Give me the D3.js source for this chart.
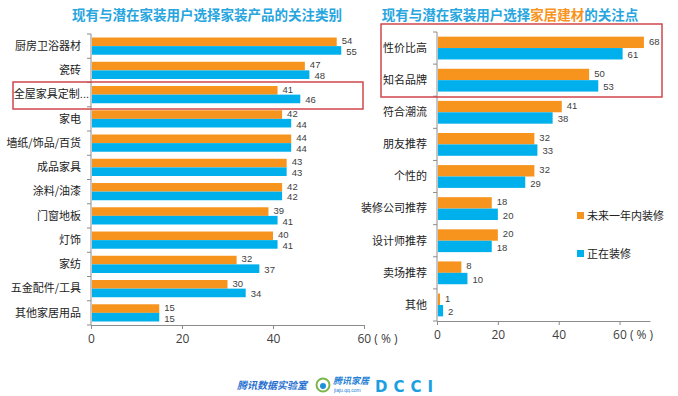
<!DOCTYPE html>
<html>
<head>
<meta charset="utf-8">
<script src="https://cdn.jsdelivr.net/npm/d3@7"></script>
<style>
  body { margin: 0; background: #fff; }
  text { font-family: "Noto Sans CJK SC", "Noto Sans", sans-serif; }
  .axis path, .axis line { stroke: #8c8c8c; }
  .axis text { fill: #404040; font-size: 12px; font-family: "Open Sans", sans-serif; }
  .valueLabel { fill: #404040; font-size: 9.5px; font-family: "Liberation Sans", sans-serif; }
  .catLabel { fill: #222; font-size: 11px; }
</style>
</head>
<body>
<div id="chart"></div>
<script>
var width = 678, height = 396;

// left chart: product categories
var leftCats = ["厨房卫浴器材", "瓷砖", "全屋家具定制…", "家电", "墙纸/饰品/百货", "成品家具", "涂料/油漆", "门窗地板", "灯饰", "家纺", "五金配件/工具", "其他家居用品"];
var leftFuture = [54, 47, 41, 42, 44, 43, 42, 39, 40, 32, 30, 15];
var leftNow = [55, 48, 46, 44, 44, 43, 42, 41, 41, 37, 34, 15];

// right chart: building material concerns
var rightCats = ["性价比高", "知名品牌", "符合潮流", "朋友推荐", "个性的", "装修公司推荐", "设计师推荐", "卖场推荐", "其他"];
var rightFuture = [68, 50, 41, 32, 32, 18, 20, 8, 1];
var rightNow = [61, 53, 38, 33, 29, 20, 18, 10, 2];

var ticks = [0, 20, 40, 60];
var seriesNames = ["未来一年内装修", "正在装修"];
var colors = ["#f7941d", "#00b0ec"];
var titleBlue = "#26a5de";

var svg = d3.select("#chart").append("svg")
    .attr("width", width)
    .attr("height", height);

function drawChart(cfg) {
    var x = d3.scaleLinear().domain([0, cfg.xMax]).range([cfg.x0, cfg.x1]);
    var y = d3.scaleBand().domain(cfg.cats).range([cfg.y0, cfg.y1]);
    var bh = y.bandwidth() * 0.355;
    var off = (y.bandwidth() - 2 * bh) / 2;

    var g = svg.append("g");

    // x axis
    var xAxis = d3.axisBottom(x)
        .tickValues(ticks)
        .tickSize(4)
        .tickSizeOuter(0)
        .tickFormat(d => d);
    var ax = g.append("g")
        .attr("class", "axis")
        .attr("transform", `translate(0, ${cfg.y1})`)
        .call(xAxis);
    ax.selectAll(".tick text").attr("dy", "0.9em");
    ax.selectAll(".tick").filter(d => d == 60).select("text")
        .attr("text-anchor", "start")
        .attr("x", -7)
        .text("60 ( % )");

    // y axis with ticks at category boundaries
    g.append("line")
        .attr("x1", cfg.x0).attr("x2", cfg.x0)
        .attr("y1", cfg.y0).attr("y2", cfg.y1)
        .attr("stroke", "#8c8c8c");
    g.selectAll("line.ytick")
        .data(d3.range(cfg.cats.length + 1))
        .enter()
        .append("line")
        .attr("class", "ytick")
        .attr("x1", cfg.x0 - 4).attr("x2", cfg.x0)
        .attr("y1", i => cfg.y0 + i * y.step())
        .attr("y2", i => cfg.y0 + i * y.step())
        .attr("stroke", "#8c8c8c");

    var labels = g.selectAll("text.catLabel")
        .data(cfg.cats)
        .enter()
        .append("text")
        .attr("class", "catLabel")
        .attr("x", d => d.endsWith("…") ? cfg.x0 - 2 : cfg.x0 - 10)
        .attr("y", d => y(d) + y.bandwidth() / 2)
        .attr("dy", "0.35em")
        .style("text-anchor", "end");
    labels.append("tspan").text(d => d.replace("…", ""));
    // truncated label: narrow dots like the original
    labels.filter(d => d.endsWith("…"))
        .append("tspan")
        .style("font-family", "Liberation Sans, sans-serif")
        .text("...");

    [cfg.future, cfg.now].forEach(function(vals, s) {
        var rows = cfg.cats.map((c, i) => ({ key: c, value: vals[i] }));
        g.selectAll("rect.bar" + s)
            .data(rows)
            .enter()
            .append("rect")
            .attr("class", "bar" + s)
            .attr("x", x(0) + 1)
            .attr("width", d => x(d.value) - x(0) - 1)
            .attr("y", d => y(d.key) + off + s * bh)
            .attr("height", bh)
            .style("fill", colors[s]);

        g.selectAll("text.valueLabel" + s)
            .data(rows)
            .enter()
            .append("text")
            .attr("class", "valueLabel valueLabel" + s)
            .attr("x", d => x(d.value) + 5)
            .attr("y", d => y(d.key) + off + s * bh + bh / 2 + (s ? 1 : -1))
            .attr("dy", "0.35em")
            .text(d => d.value);
    });

    return y;
}

drawChart({ cats: leftCats, future: leftFuture, now: leftNow, xMax: 60, x0: 91, x1: 364, y0: 34, y1: 325 });
drawChart({ cats: rightCats, future: rightFuture, now: rightNow, xMax: 70, x0: 437, x1: 650, y0: 32, y1: 321 });

// titles
svg.append("text")
    .attr("x", 207).attr("y", 20)
    .style("text-anchor", "middle")
    .style("font-size", "13.5px")
    .style("font-weight", "bold")
    .style("fill", titleBlue)
    .text("现有与潜在家装用户选择家装产品的关注类别");

var t2 = svg.append("text")
    .attr("x", 510).attr("y", 20)
    .style("text-anchor", "middle")
    .style("font-size", "13.5px")
    .style("font-weight", "bold")
    .style("fill", titleBlue);
t2.append("tspan").text("现有与潜在家装用户选择");
t2.append("tspan").style("fill", colors[0]).text("家居建材");
t2.append("tspan").text("的关注点");

// highlight boxes
svg.append("rect")
    .attr("x", 13).attr("y", 82).attr("width", 350).attr("height", 27)
    .attr("fill", "none").attr("stroke", "#d0464b").attr("stroke-width", 1.5);
svg.append("rect")
    .attr("x", 381).attr("y", 24).attr("width", 281).attr("height", 73)
    .attr("fill", "none").attr("stroke", "#d0464b").attr("stroke-width", 1.5);

// legend
var legend = svg.selectAll("g.legend")
    .data(seriesNames)
    .enter()
    .append("g")
    .attr("class", "legend")
    .attr("transform", (d, i) => `translate(577, ${212 + i * 38})`);
legend.append("rect")
    .attr("width", 7).attr("height", 7)
    .style("fill", (d, i) => colors[i]);
legend.append("text")
    .attr("x", 10).attr("y", 4)
    .attr("dy", "0.35em")
    .style("font-size", "11px")
    .style("fill", "#222")
    .text(d => d);

// footer logos
svg.append("text")
    .attr("x", 237).attr("y", 389)
    .style("font-size", "10px")
    .style("font-weight", "bold")
    .style("font-style", "italic")
    .style("fill", "#1f6fd0")
    .text("腾讯数据实验室");
svg.append("circle")
    .attr("cx", 323).attr("cy", 385).attr("r", 6.5)
    .attr("fill", "none").attr("stroke", "#7ab648").attr("stroke-width", 2);
svg.append("circle")
    .attr("cx", 323).attr("cy", 386).attr("r", 3)
    .attr("fill", "#1f8fd8");
svg.append("text")
    .attr("x", 333).attr("y", 384)
    .style("font-size", "9px")
    .style("font-weight", "bold")
    .style("font-style", "italic")
    .style("fill", "#1f7fd6")
    .text("腾讯家居");
svg.append("text")
    .attr("x", 334).attr("y", 392)
    .style("font-size", "5px")
    .style("font-family", "Liberation Sans, sans-serif")
    .style("fill", "#1f7fd6")
    .text("jiaju.qq.com");
svg.append("text")
    .attr("x", 375).attr("y", 392)
    .style("font-size", "15px")
    .style("font-weight", "bold")
    .style("letter-spacing", "6px")
    .style("font-family", "DejaVu Sans, sans-serif")
    .style("fill", "#1a9fe2")
    .text("DCCI");
</script>
</body>
</html>
